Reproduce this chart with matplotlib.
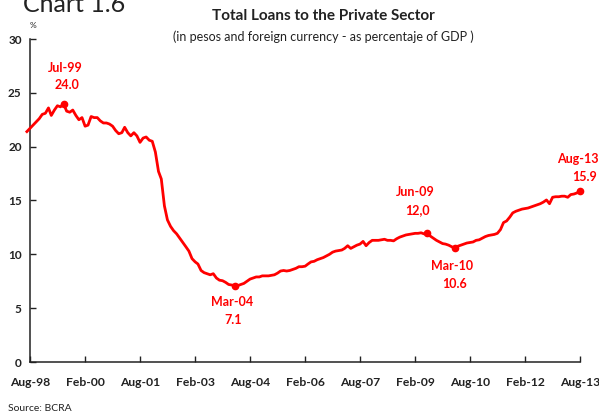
import matplotlib
matplotlib.use("Agg")
import matplotlib.pyplot as plt
import numpy as np
import pandas as pd

plt.rcParams['font.family'] = ['Lato', 'DejaVu Sans']

# Monthly series, Jul-98 .. Aug-13 (% of GDP)
dates = pd.date_range('1998-07-01', '2013-08-01', freq='MS')
loans = [
    21.4, 21.7, 22.0, 22.3, 22.6, 23.0, 23.1,                          # Jul-98 .. Jan-99
    23.6, 22.9, 23.4, 23.8, 23.7, 24.0, 23.3, 23.2, 23.4, 22.9, 22.5, 22.7,
    21.9, 22.0, 22.8, 22.7, 22.7, 22.4, 22.2, 22.2, 22.1, 21.9, 21.5, 21.2,
    21.3, 21.8, 21.3, 21.0, 21.3, 21.0, 20.4, 20.8, 20.9, 20.6, 20.5, 19.5,
    17.7, 17.0, 14.5, 13.2, 12.6, 12.2, 11.9, 11.5, 11.1, 10.7, 10.3, 9.6,
    9.3, 9.1, 8.5, 8.3, 8.2, 8.1, 8.2, 7.8, 7.6, 7.55, 7.4, 7.2,
    7.15, 7.1, 7.1, 7.2, 7.3, 7.5, 7.7, 7.8, 7.9, 7.9, 8.0, 8.0,
    8.0, 8.05, 8.1, 8.25, 8.45, 8.5, 8.45, 8.5, 8.6, 8.7, 8.85, 8.85,
    8.9, 9.1, 9.3, 9.35, 9.5, 9.6, 9.7, 9.85, 10.0, 10.2, 10.3, 10.35,
    10.4, 10.55, 10.8, 10.55, 10.7, 10.85, 10.95, 11.2, 10.8, 11.1, 11.3, 11.3,
    11.3, 11.35, 11.4, 11.3, 11.3, 11.25, 11.45, 11.6, 11.7, 11.8, 11.85, 11.9,
    11.95, 11.95, 12.0, 11.9, 12.0, 11.7, 11.5, 11.3, 11.15, 11.0, 10.95, 10.85,
    10.7, 10.6, 10.75, 10.85, 10.95, 11.05, 11.1, 11.15, 11.3, 11.35, 11.5, 11.65,
    11.75, 11.8, 11.85, 11.95, 12.3, 12.95, 13.1, 13.45, 13.85, 14.0, 14.1, 14.2,
    14.25, 14.3, 14.4, 14.5, 14.6, 14.7, 14.85, 15.05, 14.7, 15.3, 15.35, 15.35,
    15.4, 15.4, 15.3, 15.55, 15.6, 15.7, 15.9,
]

# Highlighted points: date, value, label text
mark_dates = ['1999-07-01', '2004-03-01', '2009-06-01', '2010-03-01', '2013-08-01']
mark_values = [24.0, 7.1, 12.0, 10.6, 15.9]
mark_names = ['Jul-99', 'Mar-04', 'Jun-09', 'Mar-10', 'Aug-13']
mark_texts = ['24.0', '7.1', '12,0', '10.6', '15.9']

tick_dates = pd.date_range('1998-08-01', periods=11, freq='18MS')
y_ticks = [0, 5, 10, 15, 20, 25, 30]

RED = '#ff0000'
INK = '#222222'

fig = plt.figure(figsize=(5.99, 4.11), dpi=100)
ax = fig.add_axes([30 / 599, 49 / 411, 550 / 599, 323 / 411])

ax.plot(dates, loans, color=RED, lw=2.0, clip_on=False, zorder=3,
        solid_joinstyle='round')
md = pd.to_datetime(mark_dates)
ax.plot(md, mark_values, 'o', color=RED, ms=4.5, clip_on=False, zorder=4)

# label offsets in points: (name dx, name dy, value dx, value dy)
offsets = [(1, 25.5, 2.4, 13.5),
           (-2.2, -11.5, -1.2, -24.5),
           (-8.9, 29.2, -6.8, 16.3),
           (-1.7, -12.7, -0.2, -25.9),
           (-1.4, 22.8, 3.1, 9.6)]
for d, v, n, t, (nx, ny, vx, vy) in zip(md, mark_values, mark_names,
                                        mark_texts, offsets):
    kw = dict(textcoords='offset points', ha='center', va='center',
              color=RED, fontsize=9, fontweight='bold')
    ax.annotate(n, (d, v), xytext=(nx, ny), **kw)
    ax.annotate(t, (d, v), xytext=(vx, vy), **kw)

ax.set_xlim(tick_dates[0], tick_dates[-1])
ax.set_ylim(0, 30)
ax.set_xticks(tick_dates)
ax.set_xticklabels([d.strftime('%b-%y') for d in tick_dates])
ax.set_yticks(y_ticks)

for s in ['top', 'right']:
    ax.spines[s].set_visible(False)
for s in ['left', 'bottom']:
    ax.spines[s].set_color(INK)
    ax.spines[s].set_linewidth(1.1)
ax.tick_params(direction='in', length=4, width=1.0, color=INK,
               labelcolor=INK)
ax.tick_params(axis='x', pad=11, labelsize=8.7)
ax.tick_params(axis='y', pad=6, labelsize=8.5)
for lab in ax.get_xticklabels() + ax.get_yticklabels():
    lab.set_fontweight('bold')

fig.text(323 / 599, 1 - 16.5 / 411, 'Total Loans to the Private Sector',
         ha='center', va='center', fontsize=11, fontweight='bold', color=INK)
fig.text(323 / 599, 1 - 37 / 411,
         '(in pesos and foreign currency - as percentaje of GDP )',
         ha='center', va='center', fontsize=9, color=INK)
fig.text(33 / 599, 1 - 25 / 411, '%', ha='center', va='center',
         fontsize=6, color=INK)
fig.text(23 / 599, 1 - 12 / 411, 'Chart 1.6', ha='left', va='baseline',
         fontsize=18, color=INK)
fig.text(8 / 599, 0.0, 'Source: BCRA', ha='left', va='baseline',
         fontsize=7.5, color=INK)

fig.savefig('out.png', dpi=100)
